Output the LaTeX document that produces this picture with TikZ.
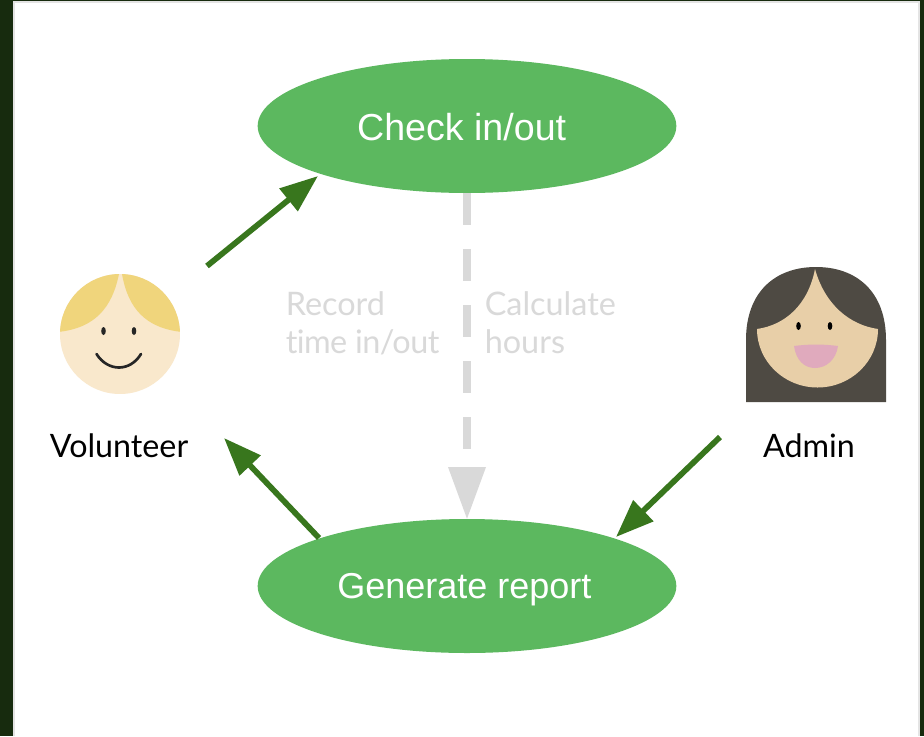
\documentclass[tikz,border=0pt]{standalone}
\usepackage{fontspec}
\setmainfont{Liberation Sans}
\newfontfamily\latofont[Ligatures=NoCommon]{Lato}
\usetikzlibrary{arrows.meta,shapes.geometric}
\definecolor{frame}{HTML}{172B0E}
\definecolor{edgegrey}{HTML}{D9D9D9}
\definecolor{oval}{HTML}{5CB85F}
\definecolor{arrowgreen}{HTML}{38761D}
\definecolor{skinA}{HTML}{F9E8CC}
\definecolor{hairA}{HTML}{F0D57C}
\definecolor{skinB}{HTML}{E8CFA8}
\definecolor{hairB}{HTML}{4E4A43}
\definecolor{mouthB}{HTML}{E0AABD}
\tikzset{
  x=0.75pt,y=-0.75pt,
  usecase/.style={ellipse,fill=oval,draw=none,minimum width=314pt,minimum height=100.5pt,inner sep=0pt,text=white},
  actorlabel/.style={inner sep=0pt,font=\latofont\fontsize{24.2pt}{28pt}\selectfont,text=black},
  note/.style={inner sep=0pt,align=left,anchor=north west,text=edgegrey,font=\latofont\fontsize{24.3pt}{28.5pt}\selectfont},
  flow/.style={draw=arrowgreen,line width=4.3pt,-{Triangle[length=28.5pt,width=21pt]}},
  derived/.style={draw=edgegrey,line width=6pt,dash pattern=on 24pt off 18pt}
}
\begin{document}
\begin{tikzpicture}
\useasboundingbox (0,0) rectangle (924,736);
\fill[frame] (0,0) rectangle (924,736);
\fill[edgegrey!70!white] (13,1) rectangle (920,736);
\fill[white] (15,3) rectangle (918,736);

\node[usecase,font=\fontsize{28.2pt}{32pt}\selectfont] (check) at (467,126) {\raisebox{-10.5pt}[0pt][0pt]{\hspace*{-8pt}Check in/out}};
\node[usecase,font=\fontsize{27pt}{32pt}\selectfont] (report) at (467,586) {\raisebox{-9.6pt}[0pt][0pt]{\hspace*{-4pt}Generate report}};

% volunteer
\begin{scope}
\clip (120,334) circle[radius=60];
\fill[skinA] (60,274) rectangle (180,394);
\fill[hairA] (58,332) .. controls (95,328) and (112,308) .. (119,274) -- (58,272) -- cycle;
\fill[hairA] (182,332) .. controls (145,328) and (128,308) .. (122,274) -- (182,272) -- cycle;
\end{scope}
\fill[black!85] (103.5,331) ellipse[x radius=2.3,y radius=4];
\fill[black!85] (134,331) ellipse[x radius=2.3,y radius=4];
\draw[black!85,line width=2pt,line cap=round] (96.5,354) .. controls (108,372) and (130,372) .. (141,354);
\node[actorlabel] (volunteer) at (119,446) {Volunteer};

% admin
\fill[hairB] (746,402) -- (746,340) .. controls (746,292) and (775,267) .. (816,267) .. controls (857,267) and (886,292) .. (886,340) -- (886,402) -- cycle;
\fill[skinB] (815,269) .. controls (808,305) and (785,325) .. (757,329) arc[start angle=180,end angle=0,x radius=60.5,y radius=58.5] .. controls (850,325) and (825,305) .. (815,269) -- cycle;
\fill[black] (798.5,326) ellipse[x radius=2.3,y radius=4];
\fill[black] (830,326) ellipse[x radius=2.3,y radius=4];
\fill[mouthB] (794,346) .. controls (810,344) and (822,344) .. (838,346) .. controls (836,360) and (826,368) .. (815,368) .. controls (804,368) and (796,360) .. (794,346) -- cycle;
\node[actorlabel] (admin) at (809,446) {Admin};

\coordinate (volOut) at (207,266);
\coordinate (checkIn) at (318,176);
\coordinate (reportOut) at (319,538);
\coordinate (volIn) at (224,438);
\coordinate (adminOut) at (720,437);
\coordinate (reportIn) at (616,537);
\draw[flow] (volOut) -- (checkIn);
\draw[flow] (reportOut) -- (volIn);
\draw[flow] (adminOut) -- (reportIn);

\coordinate (dashEnd) at (467,450);
\draw[derived] (check.south -| dashEnd) -- (dashEnd);
\fill[edgegrey] (448,467) -- (486,467) -- (report.north -| dashEnd) -- cycle;

\node[note] (record) at (285.5,291.5) {Record\\{\addfontfeature{LetterSpace=-1.7}time in/out}};
\node[note] (calc) at (484.5,291.5) {Calculate\\hours};
\end{tikzpicture}
\end{document}
